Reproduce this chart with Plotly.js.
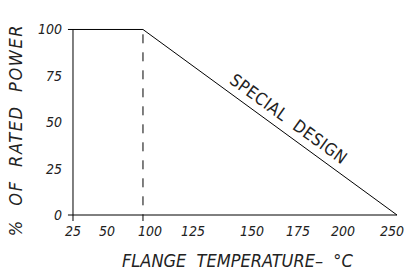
<!DOCTYPE html>
<html>
<head>
<meta charset="utf-8">
<script src="https://cdn.plot.ly/plotly-3.0.1.min.js"></script>
<style>
html,body{margin:0;padding:0;background:#fff;}
#chart{width:411px;height:272px;}
#chart .xtick text, #chart .ytick text{font-style:italic !important;}
#chart .annotation[data-index="1"] text{letter-spacing:1.6px;}
#chart .annotation[data-index="2"] text{letter-spacing:0.6px;}
</style>
</head>
<body>
<div id="chart"></div>
<script>
// Axis positions (drawing units) and labels
const xTickLabels = ['25', '50', '100', '125', '150', '175', '200', '250'];
const xTickPos = [25, 48.6, 78.5, 108.3, 149.3, 181.3, 212.5, 246.5];
const yTickVals = [0, 25, 50, 75, 100];
const yTickLabels = ['0', '25', '50', '75', '100'];

// Derating curve: full power up to the 100 °C mark, then linear to 0 at 250 °C
const curveX = [21.5, 73.6, 250];
const curveY = [100, 100, 0];

// Frame lines
const axisXLineX = [21.5, 250];
const axisXLineY = [0, 0];
const axisYLineX = [25, 25];
const axisYLineY = [100, -3.8];
const dashX = [73.6, 73.6];
const dashY = [97.4, -3.8];

const fontFam = '"Liberation Sans Narrow", "DejaVu Sans Condensed", sans-serif';
const ink = '#222';

const lineStyle = {color: '#000', width: 1};
const traces = [
  {x: curveX, y: curveY, mode: 'lines', line: lineStyle, hoverinfo: 'skip'},
  {x: axisXLineX, y: axisXLineY, mode: 'lines', line: lineStyle, hoverinfo: 'skip'},
  {x: axisYLineX, y: axisYLineY, mode: 'lines', line: lineStyle, hoverinfo: 'skip'},
  {x: dashX, y: dashY, mode: 'lines', line: {color: '#000', width: 1, dash: '9px,9px'}, hoverinfo: 'skip'}
];

const layout = {
  width: 411, height: 272,
  margin: {l: 63, r: 6, t: 10, b: 51},
  paper_bgcolor: '#fff', plot_bgcolor: '#fff',
  showlegend: false,
  font: {family: fontFam, color: ink, size: 13, style: 'italic'},
  xaxis: {
    range: [18.06, 255.56],
    tickmode: 'array', tickvals: xTickPos, ticktext: xTickLabels,
    showgrid: false, zeroline: false, showline: false, ticks: '',
    tickfont: {family: fontFam, size: 14, color: ink, style: 'italic'}
  },
  yaxis: {
    range: [-3.23, 110.5],
    tickmode: 'array', tickvals: yTickVals, ticktext: yTickLabels,
    showgrid: false, zeroline: false, showline: false, ticks: '',
    tickfont: {family: fontFam, size: 14, color: ink, style: 'italic'}
  },
  annotations: [
    {text: 'FLANGE  TEMPERATURE–  °C', xref: 'paper', yref: 'paper', x: (237 - 63) / 342, y: (272 - 260 - 51) / 211,
     xanchor: 'center', yanchor: 'middle', showarrow: false,
     font: {family: fontFam, size: 18, color: ink, style: 'italic'}},
    {text: '%  OF  RATED  POWER', xref: 'paper', yref: 'paper', x: (15 - 63) / 342, y: (221 - 130) / 211,
     xanchor: 'center', yanchor: 'middle', showarrow: false, textangle: -90,
     font: {family: fontFam, size: 18, color: ink, style: 'italic'}},
    {text: 'SPECIAL  DESIGN', xref: 'x', yref: 'y', x: 175, y: 51.7,
     xanchor: 'center', yanchor: 'middle', showarrow: false, textangle: 36,
     font: {family: fontFam, size: 17, color: ink, style: 'normal'}}
  ]
};

Plotly.newPlot('chart', traces, layout, {staticPlot: true, displayModeBar: false});
</script>
</body>
</html>
